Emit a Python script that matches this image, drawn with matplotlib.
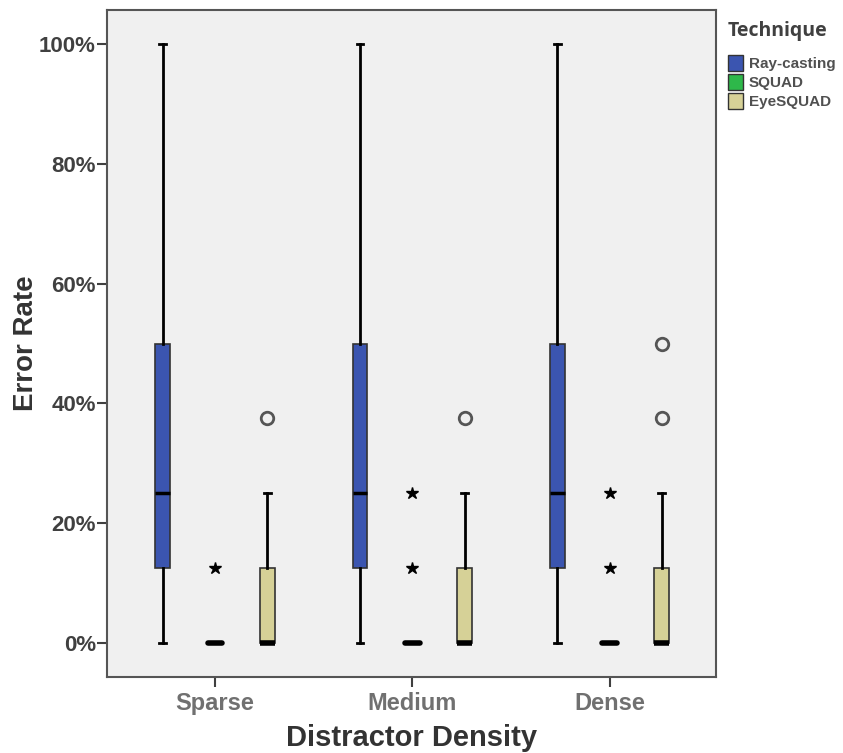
import matplotlib.pyplot as plt
from matplotlib.patches import Patch
from matplotlib.ticker import PercentFormatter

plt.rcParams['font.family'] = ['Liberation Sans', 'DejaVu Sans']

densities = ['Sparse', 'Medium', 'Dense']
techniques = ['Ray-casting', 'SQUAD', 'EyeSQUAD']
colors = ['#3b55b0', '#2eb84a', '#d6d197']

# per-technique box summaries (same for every density level), error rate in %
whislo = {'Ray-casting': [0, 0, 0], 'SQUAD': [0, 0, 0], 'EyeSQUAD': [0, 0, 0]}
q1 = {'Ray-casting': [12.5, 12.5, 12.5], 'SQUAD': [0, 0, 0], 'EyeSQUAD': [0, 0, 0]}
med = {'Ray-casting': [25, 25, 25], 'SQUAD': [0, 0, 0], 'EyeSQUAD': [0, 0, 0]}
q3 = {'Ray-casting': [50, 50, 50], 'SQUAD': [0, 0, 0], 'EyeSQUAD': [12.5, 12.5, 12.5]}
whishi = {'Ray-casting': [100, 100, 100], 'SQUAD': [0, 0, 0], 'EyeSQUAD': [25, 25, 25]}

# extreme values (stars) and outliers (circles)
extremes = {'SQUAD': [[12.5], [12.5, 25], [12.5, 25]]}
outliers = {'EyeSQUAD': [[37.5], [37.5], [37.5, 50]]}

offsets = [-0.265, 0, 0.265]
box_w = 0.075

fig = plt.figure(figsize=(8.43, 7.53), dpi=100)
ax = fig.add_axes([107 / 843, 1 - 677 / 753, 609 / 843, 667 / 753])
ax.set_facecolor('#f0f0f0')

for t, tech in enumerate(techniques):
    stats = []
    for i in range(len(densities)):
        stats.append(dict(whislo=whislo[tech][i], q1=q1[tech][i], med=med[tech][i],
                          q3=q3[tech][i], whishi=whishi[tech][i], fliers=[]))
    pos = [i + offsets[t] for i in range(len(densities))]
    flat = q3[tech][0] == q1[tech][0]
    ax.bxp(stats, positions=pos, widths=box_w, patch_artist=True, showfliers=False,
           boxprops=dict(facecolor=colors[t], edgecolor='#333333', linewidth=1.2),
           medianprops=dict(color='black', linewidth=4 if flat or med[tech][0] == q1[tech][0] else 2.5,
                            solid_capstyle='round' if flat else 'butt'),
           whiskerprops=dict(color='black', linewidth=2),
           capprops=dict(color='black', linewidth=2),
           capwidths=box_w * 0.45)
    for i in range(len(densities)):
        for v in extremes.get(tech, [[]] * 3)[i]:
            ax.plot(pos[i], v, marker='*', color='black', markersize=9, linestyle='none')
        for v in outliers.get(tech, [[]] * 3)[i]:
            ax.plot(pos[i], v, marker='o', markerfacecolor='none', markeredgecolor='#555555',
                    markeredgewidth=2, markersize=9, linestyle='none')

ax.set_xlim(-0.548, 2.54)
ax.set_ylim(-5.7, 105.7)
ax.set_yticks([0, 20, 40, 60, 80, 100])
ax.yaxis.set_major_formatter(PercentFormatter(decimals=0))
ax.set_xticks(range(len(densities)))
ax.set_xticklabels(densities)
for lbl in ax.get_yticklabels():
    lbl.set_fontweight('bold')
    lbl.set_fontsize(16)
    lbl.set_color('#404040')
for lbl in ax.get_xticklabels():
    lbl.set_fontweight('bold')
    lbl.set_fontsize(17)
    lbl.set_color('#707070')
ax.tick_params(axis='y', length=7, width=1.5, color='#404040', pad=1)
ax.tick_params(axis='x', length=7, width=1.5, color='#404040', pad=4)
for s in ax.spines.values():
    s.set_color('#555555')
    s.set_linewidth(1.5)

ax.set_ylabel('Error Rate', fontsize=20, fontweight='bold', color='#333333', labelpad=0)
ax.set_xlabel('Distractor Density', fontsize=21, fontweight='bold', color='#333333', labelpad=6)

handles = [Patch(facecolor=c, edgecolor='#333333', label=l) for c, l in zip(colors, techniques)]
leg = fig.legend(handles=handles, loc='upper left', bbox_to_anchor=(728 / 843, 1 - 21 / 753),
                 frameon=False, title='Technique', fontsize=11, handlelength=1.0,
                 handleheight=1.2, handletextpad=0.35, labelspacing=0.2, borderaxespad=0,
                 alignment='left', borderpad=0)
leg.get_title().set_fontsize(14)
leg.get_title().set_fontweight('bold')
leg.get_title().set_color('#404040')
leg.get_title().set_family(['Open Sans', 'DejaVu Sans'])
leg._legend_box.sep = 10
for txt in leg.get_texts():
    txt.set_fontweight('bold')
    txt.set_color('#505050')

fig.savefig('out.png', dpi=100)
